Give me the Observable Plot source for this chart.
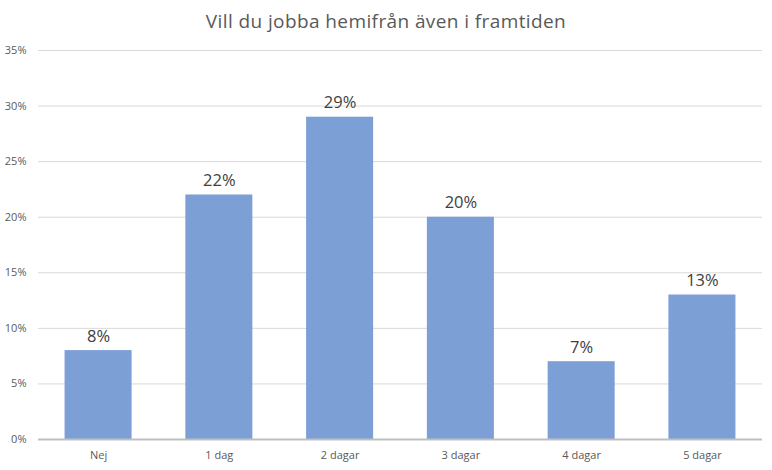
<!DOCTYPE html>
<html><head><meta charset="utf-8">
<script src="https://cdn.jsdelivr.net/npm/d3@7"></script>
<script src="https://cdn.jsdelivr.net/npm/@observablehq/plot@0.6"></script>
<style>
body{margin:0;background:#fff;font-family:"Open Sans",sans-serif;}
#title{height:40px;line-height:42px;text-align:center;font-size:19px;letter-spacing:0.4px;color:#595959;font-family:"Open Sans",sans-serif;}
</style></head><body>
<div id="title">Vill du jobba hemifrån även i framtiden</div>
<div id="chart"></div>
<script>
const categories = ["Nej","1 dag","2 dagar","3 dagar","4 dagar","5 dagar"];
const values = [8,22,29,20,7,13];
const yTicks = [0,5,10,15,20,25,30,35];
const data = categories.map((c,i)=>({cat:c, v:values[i]}));
const chart = Plot.plot({
  width:772, height:430,
  marginTop:10, marginBottom:31, marginLeft:38, marginRight:10,
  style:{fontFamily:"Open Sans, sans-serif", background:"#fff"},
  x:{domain:categories, paddingInner:0.445, paddingOuter:0.22, round:false, label:null},
  y:{domain:[0,35], label:null},
  marks:[
    Plot.gridY(yTicks.filter(t=>t>0), {stroke:"#d9d9d9", strokeOpacity:1}),
    Plot.barY(data, {x:"cat", y:"v", fill:"#7c9fd6"}),
    Plot.ruleY([0], {stroke:"#bfbfbf", strokeWidth:2}),
    Plot.text(data, {x:"cat", y:"v", text:d=>d.v+"%", dy:-14, fontSize:16.5, fill:"#404040"}),
    Plot.axisX({tickSize:0, tickPadding:12, fontSize:11, color:"#595959", label:null}),
    Plot.axisY({ticks:yTicks, tickSize:0, tickPadding:12, fontSize:11, color:"#595959", tickFormat:d=>d+"%", label:null})
  ]
});
document.getElementById("chart").appendChild(chart);
</script>
</body></html>
